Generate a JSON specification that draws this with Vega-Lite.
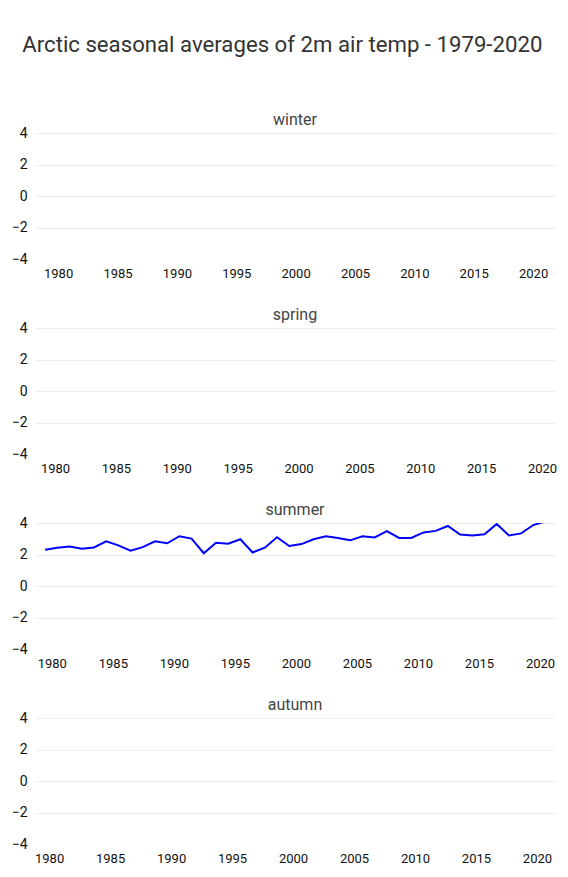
{
  "$schema": "https://vega.github.io/schema/vega-lite/v6.json",
  "title": {"text": "Arctic seasonal averages of 2m air temp - 1979-2020", "fontSize": 22.2, "font": "Roboto", "fontWeight": "normal", "color": "#333", "anchor": "middle", "offset": 56},
  "padding": {"top": 33, "left": 8, "right": 13, "bottom": 5},
  "spacing": 27,
  "data": {"values": [
    {"season": "summer", "date": "1979-06-15", "temp": 2.30},
    {"season": "summer", "date": "1980-06-15", "temp": 2.43},
    {"season": "summer", "date": "1981-06-15", "temp": 2.50},
    {"season": "summer", "date": "1982-06-15", "temp": 2.37},
    {"season": "summer", "date": "1983-06-15", "temp": 2.45},
    {"season": "summer", "date": "1984-06-15", "temp": 2.84},
    {"season": "summer", "date": "1985-06-15", "temp": 2.58},
    {"season": "summer", "date": "1986-06-15", "temp": 2.24},
    {"season": "summer", "date": "1987-06-15", "temp": 2.47},
    {"season": "summer", "date": "1988-06-15", "temp": 2.84},
    {"season": "summer", "date": "1989-06-15", "temp": 2.71},
    {"season": "summer", "date": "1990-06-15", "temp": 3.16},
    {"season": "summer", "date": "1991-06-15", "temp": 3.01},
    {"season": "summer", "date": "1992-06-15", "temp": 2.08},
    {"season": "summer", "date": "1993-06-15", "temp": 2.75},
    {"season": "summer", "date": "1994-06-15", "temp": 2.69},
    {"season": "summer", "date": "1995-06-15", "temp": 2.97},
    {"season": "summer", "date": "1996-06-15", "temp": 2.13},
    {"season": "summer", "date": "1997-06-15", "temp": 2.43},
    {"season": "summer", "date": "1998-06-15", "temp": 3.10},
    {"season": "summer", "date": "1999-06-15", "temp": 2.54},
    {"season": "summer", "date": "2000-06-15", "temp": 2.66},
    {"season": "summer", "date": "2001-06-15", "temp": 2.97},
    {"season": "summer", "date": "2002-06-15", "temp": 3.16},
    {"season": "summer", "date": "2003-06-15", "temp": 3.05},
    {"season": "summer", "date": "2004-06-15", "temp": 2.90},
    {"season": "summer", "date": "2005-06-15", "temp": 3.16},
    {"season": "summer", "date": "2006-06-15", "temp": 3.08},
    {"season": "summer", "date": "2007-06-15", "temp": 3.48},
    {"season": "summer", "date": "2008-06-15", "temp": 3.05},
    {"season": "summer", "date": "2009-06-15", "temp": 3.05},
    {"season": "summer", "date": "2010-06-15", "temp": 3.40},
    {"season": "summer", "date": "2011-06-15", "temp": 3.50},
    {"season": "summer", "date": "2012-06-15", "temp": 3.81},
    {"season": "summer", "date": "2013-06-15", "temp": 3.27},
    {"season": "summer", "date": "2014-06-15", "temp": 3.21},
    {"season": "summer", "date": "2015-06-15", "temp": 3.29},
    {"season": "summer", "date": "2016-06-15", "temp": 3.94},
    {"season": "summer", "date": "2017-06-15", "temp": 3.21},
    {"season": "summer", "date": "2018-06-15", "temp": 3.34},
    {"season": "summer", "date": "2019-06-15", "temp": 3.87},
    {"season": "summer", "date": "2020-06-15", "temp": 4.10}
  ]},
  "vconcat": [
    {
      "title": "winter",
      "width": 520, "height": 126,
      "transform": [{"filter": "datum.season == 'winter'"}],
      "mark": {"type": "line", "color": "#0000ff", "strokeWidth": 2, "clip": true},
      "encoding": {
        "x": {"field": "date", "type": "temporal", "title": null, "scale": {"domain": ["1978-01-20", "2021-11-05"]}},
        "y": {"field": "temp", "type": "quantitative", "title": null, "scale": {"domain": [-4, 4], "nice": false, "zero": false}}
      }
    },
    {
      "title": "spring",
      "width": 520, "height": 126,
      "transform": [{"filter": "datum.season == 'spring'"}],
      "mark": {"type": "line", "color": "#0000ff", "strokeWidth": 2, "clip": true},
      "encoding": {
        "x": {"field": "date", "type": "temporal", "title": null, "scale": {"domain": ["1978-05-10", "2021-01-25"]}},
        "y": {"field": "temp", "type": "quantitative", "title": null, "scale": {"domain": [-4, 4], "nice": false, "zero": false}}
      }
    },
    {
      "title": "summer",
      "width": 520, "height": 126,
      "transform": [{"filter": "datum.season == 'summer'"}],
      "mark": {"type": "line", "color": "#0000ff", "strokeWidth": 2, "clip": true},
      "encoding": {
        "x": {"field": "date", "type": "temporal", "title": null, "scale": {"domain": ["1978-08-17", "2021-03-25"]}},
        "y": {"field": "temp", "type": "quantitative", "title": null, "scale": {"domain": [-4, 4], "nice": false, "zero": false}}
      }
    },
    {
      "title": "autumn",
      "width": 520, "height": 126,
      "transform": [{"filter": "datum.season == 'autumn'"}],
      "mark": {"type": "line", "color": "#0000ff", "strokeWidth": 2, "clip": true},
      "encoding": {
        "x": {"field": "date", "type": "temporal", "title": null, "scale": {"domain": ["1978-11-05", "2021-06-25"]}},
        "y": {"field": "temp", "type": "quantitative", "title": null, "scale": {"domain": [-4, 4], "nice": false, "zero": false}}
      }
    }
  ],
  "resolve": {"scale": {"x": "independent", "y": "independent"}},
  "config": {
    "view": {"stroke": null},
    "font": "Roboto",
    "title": {"fontSize": 16, "fontWeight": "normal", "color": "#444", "font": "Roboto", "offset": -2},
    "axis": {"domain": false, "ticks": false, "labelFont": "Roboto", "labelFontSize": 13, "labelColor": "#111", "gridColor": "#eee", "gridWidth": 1},
    "axisX": {"grid": false, "format": "%Y", "tickCount": {"interval": "year", "step": 5}, "labelPadding": 8, "labelFlush": false, "labelOverlap": false},
    "axisY": {"values": [-4, -2, 0, 2, 4], "labelPadding": 8, "labelFontSize": 14, "minExtent": 27, "maxExtent": 27, "gridOpacity": {"condition": {"test": "datum.value === -4", "value": 0}, "value": 1}}
  }
}
